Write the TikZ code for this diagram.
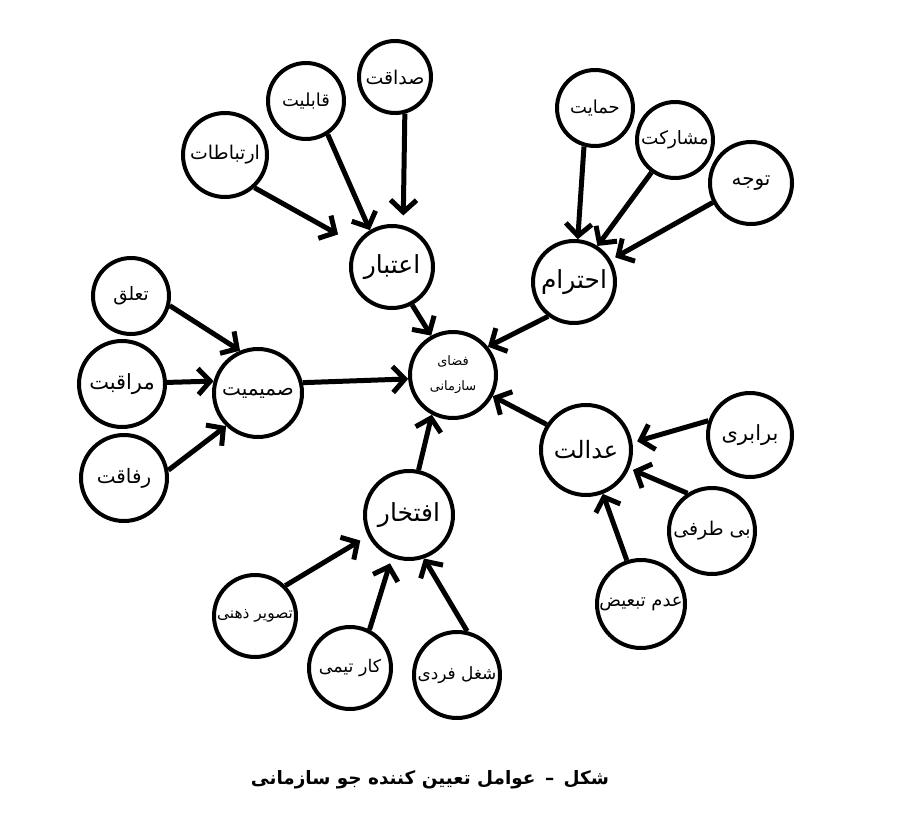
\documentclass[tikz,border=0pt]{standalone}
\usepackage{fontspec}
\newfontfamily\fa[Script=Arabic]{DejaVu Sans}
\TeXXeTstate=1
\usetikzlibrary{arrows.meta}
\newcommand{\fatx}[1]{\beginR #1\endR}
\newcommand{\fs}[1]{\fa\fontsize{#1}{#1}\selectfont}
\begin{document}
\begin{tikzpicture}[x=1bp,y=-1bp,
  ring/.style={circle, draw, line width=4bp, inner sep=0pt, font=\fs{19}},
  bigring/.style={ring, font=\fs{25}},
  arr/.style={line width=5bp, -{Straight Barb[length=12bp,width=26bp]}}
]
\useasboundingbox[fill=white] (0,0) rectangle (900,820);

% central node
\node[ring, minimum size=86bp, align=center, font=\fa\fontsize{13}{25}\selectfont] (center) at (453,375) {\fatx{فضای}\\\fatx{سازمانی}};

% main factors
\node[bigring, minimum size=82bp] (etebar) at (392,267) {\fatx{اعتبار}};
\node[bigring, minimum size=82bp] (ehteram) at (574,282) {\fatx{احترام}};
\node[ring, minimum size=88bp, font=\fs{20}] (samimiat) at (258,393) {\fatx{صمیمیت}};
\node[bigring, minimum size=90bp, font=\fs{24}] (edalat) at (586,450) {\fatx{عدالت}};
\node[bigring, minimum size=88bp] (eftekhar) at (409,515) {\fatx{افتخار}};

% leaves of etebar
\node[ring, minimum size=72bp, font=\fs{19}] (sedaghat) at (395,77) {\fatx{صداقت}};
\node[ring, minimum size=76bp, font=\fs{18}] (ghabeliat) at (306,101) {\fatx{قابلیت}};
\node[ring, minimum size=84bp, font=\fs{19}] (ertebatat) at (225,155) {\fatx{ارتباطات}};

% leaves of ehteram
\node[ring, minimum size=76bp, font=\fs{18}] (hemayat) at (595,108) {\fatx{حمایت}};
\node[ring, minimum size=76bp, font=\fs{18.5}] (mosharekat) at (675,140) {\fatx{مشارکت}};
\node[ring, minimum size=82bp, font=\fs{20}] (tavajoh) at (751,183) {\fatx{توجه}};

% leaves of samimiat
\node[ring, minimum size=76bp, font=\fs{18.5}] (taalogh) at (131,296) {\fatx{تعلق}};
\node[ring, minimum size=86bp, font=\fs{21}] (moraghebat) at (122,384) {\fatx{مراقبت}};
\node[ring, minimum size=86bp, font=\fs{20}] (refaghat) at (124,478) {\fatx{رفاقت}};

% leaves of edalat
\node[ring, minimum size=84bp, font=\fs{21}] (barabari) at (750,435) {\fatx{برابری}};
\node[ring, minimum size=86bp, font=\fs{19}] (bitarafi) at (712,531) {\fatx{بی طرفی}};
\node[ring, minimum size=88bp, font=\fs{18}] (adam) at (641,604) {\fatx{عدم تبعیض}};

% leaves of eftekhar
\node[ring, minimum size=82bp, font=\fs{15.5}] (tasvir) at (255,616) {\fatx{تصویر ذهنی}};
\node[ring, minimum size=82bp, font=\fs{17.5}] (kar) at (350,668) {\fatx{کار تیمی}};
\node[ring, minimum size=86bp, font=\fs{17}] (shoghl) at (457,675) {\fatx{شغل فردی}};

% caption
\node[font=\fa\bfseries\fontsize{18.5}{22}\selectfont] (caption) at (430,780) {\fatx{شکل \,–\, عوامل تعیین کننده جو سازمانی}};

% arrows to etebar
\draw[arr, shorten >=10bp] (sedaghat.-75) -- (etebar.75);
\draw[arr] (ghabeliat.-57) -- (etebar.121);
\draw[arr, shorten >=20bp] (ertebatat.-48) -- (etebar.148);

% arrows to ehteram
\draw[arr] (hemayat.-106) -- (ehteram.85);
\draw[arr] (mosharekat.-126) -- (ehteram.57);
\draw[arr, shorten >=5bp] (tavajoh.-153) -- (ehteram.31);

% arrows to samimiat
\draw[arr] (taalogh.-14) -- (samimiat.113);
\draw[arr] (moraghebat.2) -- (samimiat.165);
\draw[arr] (refaghat.10) -- (samimiat.-134);

% arrows to edalat
\draw[arr, shorten >=5bp] (barabari.161) -- (edalat.9);
\draw[arr, shorten >=4bp] (bitarafi.123) -- (edalat.-23);
\draw[arr] (adam.108) -- (edalat.-69);

% arrows to eftekhar
\draw[arr, shorten >=9bp] (tasvir.45) -- (eftekhar.-153);
\draw[arr, shorten >=6bp] (kar.63) -- (eftekhar.-112);
\draw[arr] (shoghl.77) -- (eftekhar.-71);

% arrows to center
\draw[arr] (etebar.-62) -- (center.119);
\draw[arr] (ehteram.-127) -- (center.39);
\draw[arr] (samimiat.13) -- (center.185);
\draw[arr] (edalat.147) -- (center.-28);
\draw[arr] (eftekhar.78) -- (center.-118);
\end{tikzpicture}
\end{document}
